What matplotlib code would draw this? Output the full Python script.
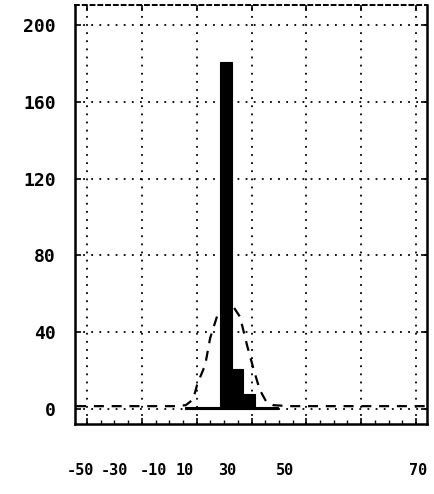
import numpy as np
import matplotlib
matplotlib.use("Agg")
import matplotlib.pyplot as plt
from matplotlib.transforms import ScaledTranslation

# histogram bins and counts
bin_edges = [-14.1, -9.9, -5.7, -1.5, 2.7, 6.9, 11.1, 15.3, 19.5]
counts = [1, 1, 1, 181, 21, 8, 1, 1]

# dashed fitted curve
curve_x = [-54, -30, -18, -14, -11.3, -9.8, -6.9, -5.1, -2.2, 0, 1.5, 3.5,
           5.8, 8.4, 10.9, 13, 15.3, 18, 24, 40, 74]
curve_y = [1.5, 1.5, 1.5, 2, 5, 13, 23, 37, 50, 54, 55, 53,
           48, 33, 20, 10, 4, 2, 1.5, 1.5, 1.5]

x_ticks = [-50, -30, -10, 10, 30, 50, 70]
x_labels = ["-50", "-30", "-10", "10", "30", "50", "70"]
y_ticks = [0, 40, 80, 120, 160, 200]
y_labels = ["0", "40", "80", "120", "160", "200"]

fig = plt.figure(figsize=(4.35, 4.94), dpi=100)
ax = fig.add_axes([75 / 435, 70 / 494, 352 / 435, 419 / 494])

edges = np.array(bin_edges)
ax.bar(edges[:-1], counts, width=np.diff(edges), align="edge",
       color="black", edgecolor="black", linewidth=0.8, zorder=3)

ax.plot(curve_x, curve_y, color="black", linewidth=1.6,
        dashes=(4.5, 3.5), zorder=4)

ax.set_xlim(-54.4, 74)
ax.set_ylim(-7.8, 210.5)

ax.set_xticks(x_ticks)
ax.set_xticklabels(x_labels)
ax.set_yticks(y_ticks)
ax.set_yticklabels(y_labels)
ax.set_xticks(np.arange(-50, 75, 5), minor=True)

ax.grid(True, color="black", linestyle=(0, (1, 3.5)), linewidth=1.3, zorder=1)

ax.tick_params(axis="both", which="major", direction="in", length=4,
               width=1.2, top=True, right=True)
ax.tick_params(axis="x", which="minor", direction="in", length=3, width=1)
ax.tick_params(axis="y", pad=14)
ax.tick_params(axis="x", pad=28)

for lab in ax.get_yticklabels():
    lab.set_family("DejaVu Sans Mono")
    lab.set_fontsize(13)
    lab.set_fontweight("bold")
for lab in ax.get_xticklabels():
    lab.set_family("DejaVu Sans Mono")
    lab.set_fontsize(11)
    lab.set_fontweight("bold")

# x labels sit irregularly under the grid in the original print
shift_px = [-7, -27, -43, -67, -79, -76, 2]
for lab, dx in zip(ax.get_xticklabels(), shift_px):
    lab.set_transform(lab.get_transform() +
                      ScaledTranslation(dx / 100, 0, fig.dpi_scale_trans))

for side in ["left", "right", "bottom"]:
    ax.spines[side].set_linewidth(1.8)
ax.spines["top"].set_linewidth(1.4)
ax.spines["top"].set_linestyle((0, (2, 2)))

fig.savefig("out.png", dpi=100, facecolor="white")
